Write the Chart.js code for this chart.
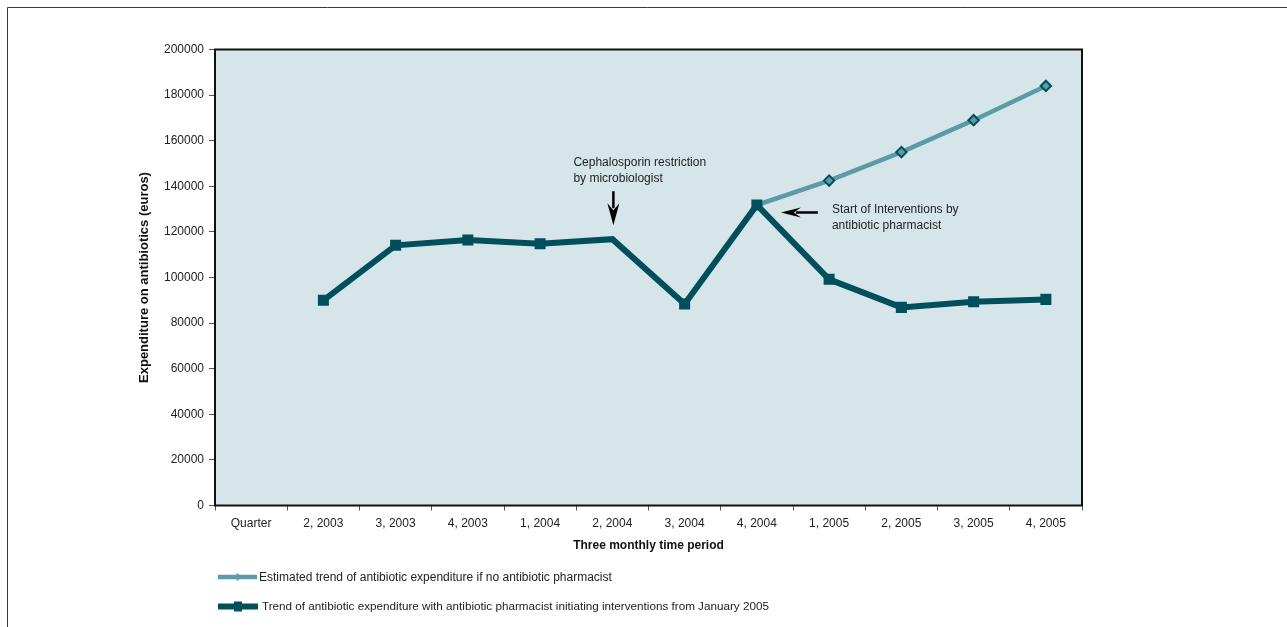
<!DOCTYPE html>
<html>
<head>
<meta charset="utf-8">
<script src="https://cdn.jsdelivr.net/npm/chart.js@4/dist/chart.umd.min.js"></script>
<style>
  html, body { margin: 0; padding: 0; background: #ffffff; }
  #wrap { width: 1287px; height: 627px; position: relative; }
</style>
</head>
<body>
<div id="wrap"><canvas id="c"></canvas></div>
<script>
// Quarterly antibiotic expenditure (euros)
const quarters = ['Quarter', '2, 2003', '3, 2003', '4, 2003', '1, 2004', '2, 2004', '3, 2004',
                  '4, 2004', '1, 2005', '2, 2005', '3, 2005', '4, 2005'];
const actualSpend = [null, 90000, 114100, 116400, 114800, 116800, 88400, 131800, 99200, 86900, 89400, 90400];
const estimatedSpend = [null, null, null, null, null, null, null, 131800, 142500, 155000, 169000, 184000];
const yTicks = { min: 0, max: 200000, step: 20000 };

const seriesNames = [
  'Estimated trend of antibiotic expenditure if no antibiotic pharmacist',
  'Trend of antibiotic expenditure with antibiotic pharmacist initiating interventions from January 2005'
];
const noteRestriction = ['Cephalosporin restriction', 'by microbiologist'];
const noteInterventions = ['Start of Interventions by', 'antibiotic pharmacist'];
const axisTitles = { x: 'Three monthly time period', y: 'Expenditure on antibiotics (euros)' };

const DARK = '#004f5b';
const LIGHT = '#5b9ba6';
const PLOT_BG = '#d6e5ea';
const FONT = '"Liberation Sans", Arial, sans-serif';

function arrow(ctx, x1, y1, x2, y2, headLen, headW) {
  // shaft from (x1,y1) to tip (x2,y2) with a slim filled head
  const ang = Math.atan2(y2 - y1, x2 - x1);
  const c = Math.cos(ang), s = Math.sin(ang);
  const bx = x2 - headLen * c, by = y2 - headLen * s;
  ctx.save();
  ctx.strokeStyle = '#000';
  ctx.fillStyle = '#000';
  ctx.lineWidth = 2.5;
  ctx.beginPath();
  ctx.moveTo(x1, y1);
  ctx.lineTo(bx + 5 * c, by + 5 * s);
  ctx.stroke();
  const nx = -s, ny = c;
  ctx.beginPath();
  ctx.moveTo(x2, y2);
  ctx.lineTo(bx + nx * headW, by + ny * headW);
  ctx.lineTo(bx + 7 * c, by + 7 * s);
  ctx.lineTo(bx - nx * headW, by - ny * headW);
  ctx.closePath();
  ctx.fill();
  ctx.restore();
}

const framePlugin = {
  id: 'frame',
  beforeDraw(chart) {
    const ctx = chart.ctx;
    const a = chart.chartArea;
    ctx.save();
    ctx.fillStyle = '#ffffff';
    ctx.fillRect(0, 0, chart.width, chart.height);
    // outer frame lines (top and left)
    ctx.strokeStyle = '#3a3a3a';
    ctx.lineWidth = 1;
    ctx.beginPath();
    ctx.moveTo(7.5, chart.height);
    ctx.lineTo(7.5, 7.5);
    ctx.lineTo(chart.width, 7.5);
    ctx.stroke();
    // plot background
    ctx.fillStyle = PLOT_BG;
    ctx.fillRect(a.left, a.top, a.right - a.left, a.bottom - a.top);
    ctx.restore();
  },
  afterDatasetsDraw(chart) {
    const ctx = chart.ctx;
    const a = chart.chartArea;
    ctx.save();
    ctx.strokeStyle = '#111';
    ctx.lineWidth = 2;
    ctx.strokeRect(a.left, a.top, a.right - a.left, a.bottom - a.top);
    ctx.restore();
  },
  afterDraw(chart) {
    const ctx = chart.ctx;
    const xs = chart.scales.x, ys = chart.scales.y;
    ctx.save();
    ctx.font = '12px ' + FONT;
    ctx.fillStyle = '#222';
    ctx.textBaseline = 'middle';
    ctx.textAlign = 'left';

    // restriction note, pointing down at 2, 2004
    const i1 = quarters.indexOf('2, 2004');
    const px1 = xs.getPixelForValue(i1) + 1;
    const py1 = ys.getPixelForValue(actualSpend[i1]);
    noteRestriction.forEach((t, k) => ctx.fillText(t, px1 - 40, py1 - 77 + k * 16));
    arrow(ctx, px1, py1 - 48, px1, py1 - 14, 22, 6);

    // intervention note, pointing left at 4, 2004
    const i2 = quarters.indexOf('4, 2004');
    const px2 = xs.getPixelForValue(i2);
    const py2 = ys.getPixelForValue(actualSpend[i2]);
    noteInterventions.forEach((t, k) => ctx.fillText(t, px2 + 75, py2 + 5 + k * 16));
    arrow(ctx, px2 + 61, py2 + 7.5, px2 + 24, py2 + 7.5, 20, 5);

    // legend below the axis
    const ds = chart.data.datasets;
    const rows = [
      { d: ds[1], y: 577, x0: 218, x1: 257, tx: 259, fs: 12 },
      { d: ds[0], y: 606.5, x0: 218, x1: 258, tx: 262, fs: 11.7 }
    ];
    rows.forEach(r => {
      const d = r.d;
      ctx.strokeStyle = d.borderColor;
      ctx.lineWidth = d.borderWidth;
      ctx.beginPath();
      ctx.moveTo(r.x0, r.y);
      ctx.lineTo(r.x1, r.y);
      ctx.stroke();
      const cx = (r.x0 + r.x1) / 2;
      if (d.pointStyle === 'rectRot') {
        ctx.fillStyle = d.borderColor;
        ctx.beginPath();
        ctx.moveTo(cx, r.y - 4); ctx.lineTo(cx + 3, r.y); ctx.lineTo(cx, r.y + 4); ctx.lineTo(cx - 3, r.y);
        ctx.closePath();
        ctx.fill();
      } else {
        ctx.fillStyle = d.pointBackgroundColor;
        ctx.fillRect(cx - 4, r.y - 5, 8, 10);
      }
      ctx.font = r.fs + 'px ' + FONT;
      ctx.fillStyle = '#222';
      ctx.fillText(d.label, r.tx, r.y + 0.5);
    });
    ctx.restore();
  }
};

new Chart(document.getElementById('c'), {
  type: 'line',
  data: {
    labels: quarters,
    datasets: [
      {
        label: seriesNames[1],
        data: actualSpend,
        borderColor: DARK,
        backgroundColor: DARK,
        pointBackgroundColor: DARK,
        pointBorderColor: DARK,
        borderWidth: 6,
        pointStyle: 'rect',
        pointRadius: ctx => (quarters[ctx.dataIndex] === '2, 2004' ? 0 : 7.8),
        pointBorderWidth: 0,
        tension: 0,
        order: 1
      },
      {
        label: seriesNames[0],
        data: estimatedSpend,
        borderColor: LIGHT,
        backgroundColor: LIGHT,
        pointBackgroundColor: LIGHT,
        pointBorderColor: DARK,
        borderWidth: 4.5,
        pointStyle: 'rectRot',
        pointRadius: ctx => (ctx.dataIndex === estimatedSpend.findIndex(v => v !== null) ? 0 : 5.2),
        pointBorderWidth: 2,
        tension: 0,
        order: 2
      }
    ]
  },
  options: {
    responsive: true,
    maintainAspectRatio: false,
    animation: false,
    devicePixelRatio: 1,
    layout: { padding: { left: 135, top: 49.5, right: 205, bottom: 71.5 } },
    plugins: { legend: { display: false }, tooltip: { enabled: false } },
    scales: {
      x: {
        type: 'category',
        offset: true,
        afterFit: s => { s.height = 50; },
        grid: { offset: true, drawOnChartArea: false, drawTicks: true, tickLength: 5, color: '#555', tickWidth: 1 },
        border: { display: false },
        ticks: { color: '#222', font: { family: FONT, size: 12 }, padding: 6, maxRotation: 0, autoSkip: false },
        title: { display: true, text: axisTitles.x, color: '#111', font: { family: FONT, size: 12, weight: 'bold' }, padding: { top: 0, bottom: 3 } }
      },
      y: {
        min: yTicks.min,
        max: yTicks.max,
        afterFit: s => { s.width = 80; },
        grid: { drawOnChartArea: false, drawTicks: true, tickLength: 6, color: '#555', tickWidth: 1 },
        border: { display: false },
        ticks: { stepSize: yTicks.step, color: '#222', font: { family: FONT, size: 12 }, padding: 5, callback: v => String(v) },
        title: { display: true, text: axisTitles.y, color: '#111', font: { family: FONT, size: 13, weight: 'bold' }, padding: { top: 2, bottom: 0 } }
      }
    }
  },
  plugins: [framePlugin]
});
</script>
</body>
</html>
